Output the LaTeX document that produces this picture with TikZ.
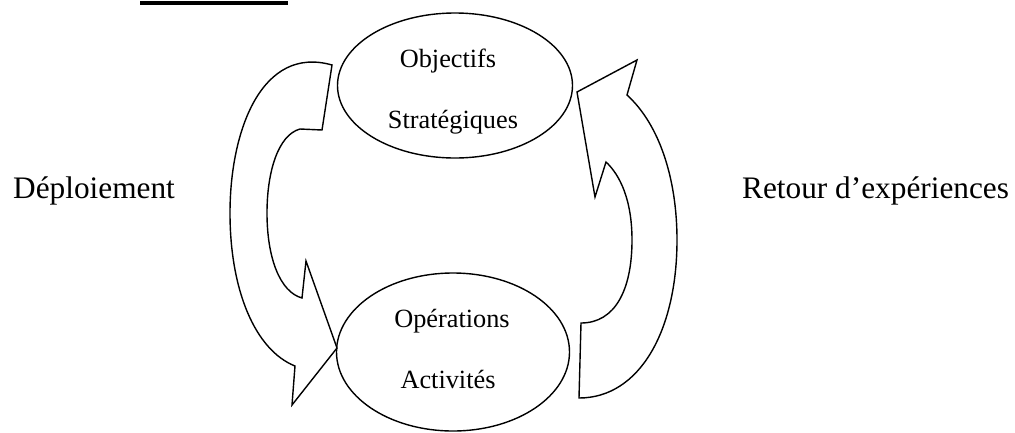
\documentclass[tikz,border=0pt]{standalone}
\usepackage{fontspec}
\setmainfont{Liberation Serif}
\usetikzlibrary{shapes.geometric}
\begin{document}
\begin{tikzpicture}[x=1pt,y=-1pt,
  oval/.style={draw, ellipse, line width=1.4pt, inner sep=0pt},
  intext/.style={font=\fontsize{26.3}{30}\selectfont, anchor=base, inner sep=0pt},
  sidetext/.style={font=\fontsize{31.3}{36}\selectfont, anchor=base west, inner sep=0pt},
  bigarrow/.style={draw, line width=1.4pt, line join=miter, fill=white}]
\useasboundingbox (0,0) rectangle (1015,432);
% title underline (cut-off title)
\fill (140,1) rectangle (288,4.5);
% ellipses
\node[oval, minimum width=235pt, minimum height=145pt] (obj) at (455,85.5) {};
\node[oval, minimum width=233pt, minimum height=158pt] (ops) at (453,352) {};
\node[intext] (t1) at (448,67) {Objectifs};
\node[intext] (t2) at (453,128) {Stratégiques};
\node[intext] (t3) at (452,327) {Opérations};
\node[intext] (t4) at (448,388) {Activités};
% side labels
\node[sidetext] (dep) at (13,198) {Déploiement};
\node[sidetext] (ret) at (742,198) {Retour d’expériences};
% left curved arrow (déploiement)
\draw[bigarrow] (332,65) -- (322,130) -- (300,129)
  .. controls (278,135) and (267,172) .. (267,213)
  .. controls (267,258) and (280,292) .. (302,298)
  -- (306,261) -- (337,348) -- (292,405) -- (295,366)
  .. controls (255,350) and (230,290) .. (230,213)
  .. controls (230,130) and (262,45) .. cycle;
% right curved arrow (retour)
\draw[bigarrow] (579,398) -- (581,323)
  .. controls (615,323) and (632,290) .. (632,240)
  .. controls (632,200) and (620,175) .. (606,162)
  -- (595,197) -- (577,92) -- (637,60) -- (627,95)
  .. controls (660,125) and (677,180) .. (677,240)
  .. controls (677,330) and (640,398) .. cycle;
\end{tikzpicture}
\end{document}
